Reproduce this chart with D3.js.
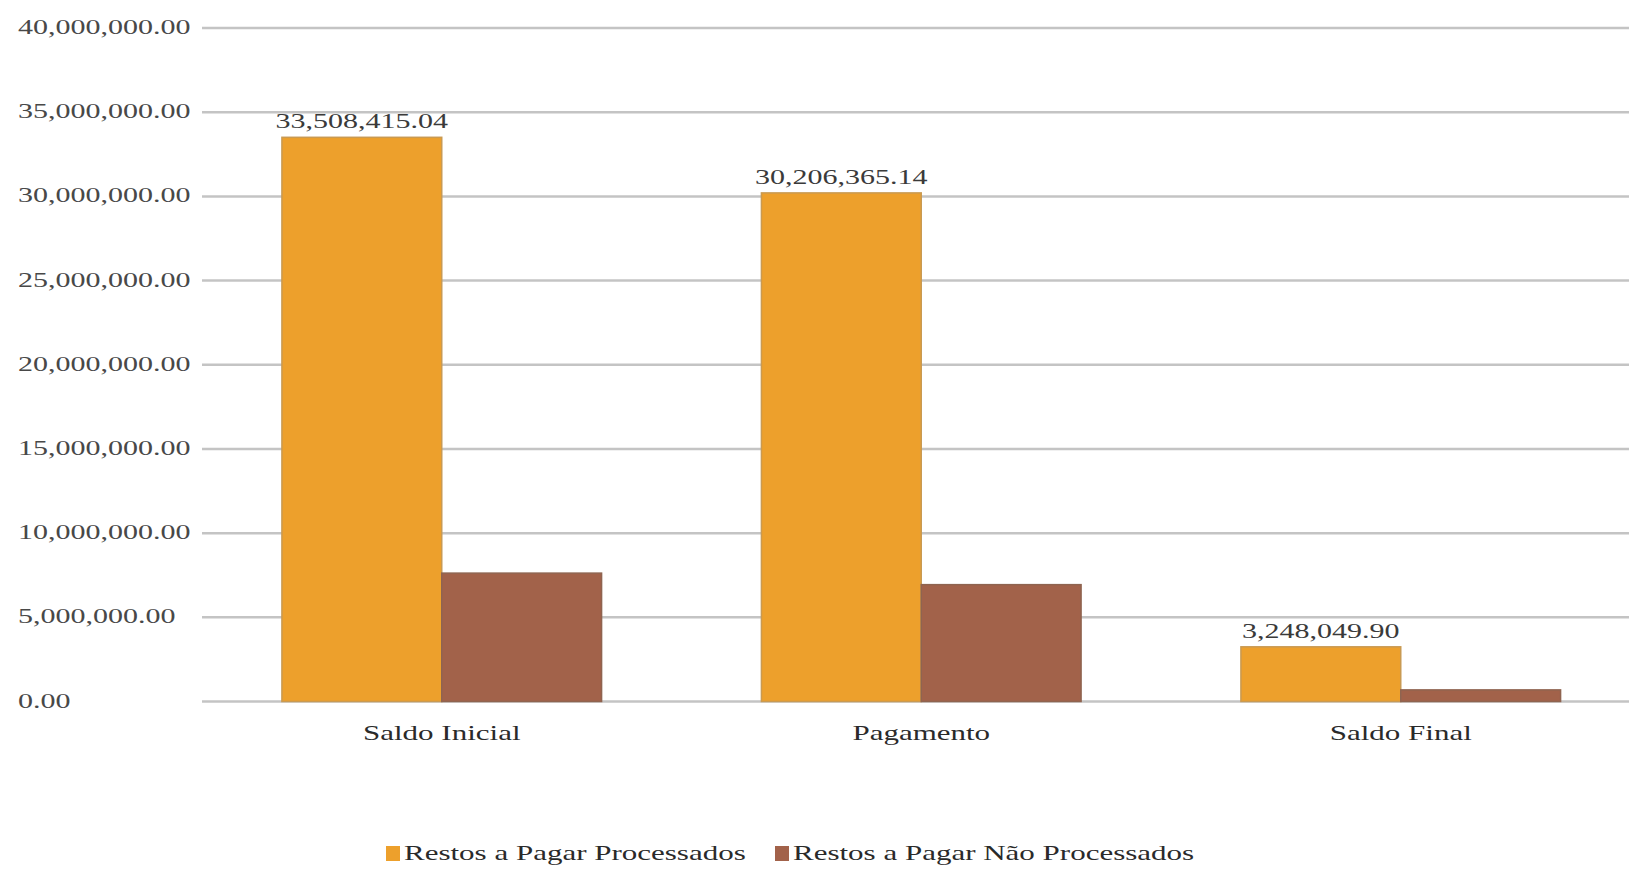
<!DOCTYPE html>
<html>
<head>
<meta charset="utf-8">
<script src="https://cdn.jsdelivr.net/npm/d3@7"></script>
<style>
  body { margin: 0; background: #fff; }
  text { font-family: "Liberation Serif", serif; fill: #333; }
</style>
</head>
<body>
<div id="chart"></div>
<script>
const categories = ["Saldo Inicial", "Pagamento", "Saldo Final"];
const seriesNames = ["Restos a Pagar Processados", "Restos a Pagar Não Processados"];
const processados = [33508415.04, 30206365.14, 3248049.90];
const naoProcessados = [7625000, 6940000, 690000];
const yTicks = [0, 5000000, 10000000, 15000000, 20000000, 25000000, 30000000, 35000000, 40000000];

const colors = ["#eda02c", "#a2624a"];
const strokes = ["#c99a52", "#8f6450"];
const numStretch = 1.5;   // the source font is wide, so stretch the serif
const textStretch = 1.55;

const width = 1629, height = 872;
const margin = {top: 28, left: 202};

const svg = d3.select("#chart").append("svg")
    .attr("width", width)
    .attr("height", height);

const y = d3.scaleLinear()
    .domain([0, 40000000])
    .range([701.5, margin.top]);

const x0 = d3.scaleBand()
    .domain(categories)
    .range([margin.left, margin.left + 3 * 479.5])
    .padding(0);

const x1 = d3.scaleBand()
    .domain(seriesNames)
    .range([0, x0.bandwidth()])
    .paddingInner(0)
    .paddingOuter(0.5);

const fmt = d3.format(",.2f");

// gridlines
svg.append("g").selectAll("line")
    .data(yTicks)
    .join("line")
    .attr("x1", margin.left)
    .attr("x2", width + 20)
    .attr("y1", d => y(d))
    .attr("y2", d => y(d))
    .attr("stroke", "#c4c4c4")
    .attr("stroke-width", 2.5);

// y tick labels (left aligned)
svg.append("g").selectAll("text")
    .data(yTicks)
    .join("text")
    .attr("transform", d => `translate(18,${y(d) + 6}) scale(${numStretch},1)`)
    .style("font-size", "20px")
    .style("fill", "#484848")
    .text(d => fmt(d));

const rows = categories.map((c, i) => ({
    category: c,
    values: [processados[i], naoProcessados[i]]
}));

const groups = svg.append("g").selectAll("g")
    .data(rows)
    .join("g")
    .attr("transform", d => `translate(${x0(d.category)},0)`);

groups.selectAll("rect")
    .data(d => d.values.map((v, j) => ({name: seriesNames[j], value: v, j: j})))
    .join("rect")
    .attr("x", d => x1(d.name))
    .attr("y", d => y(d.value))
    .attr("width", x1.bandwidth())
    .attr("height", d => y(0) - y(d.value))
    .attr("fill", d => colors[d.j])
    .attr("stroke", d => strokes[d.j])
    .attr("stroke-width", 1.5);

// data labels on processados bars
groups.append("text")
    .attr("text-anchor", "middle")
    .attr("transform", d => `translate(${x1(seriesNames[0]) + x1.bandwidth() / 2},${y(d.values[0]) - 9}) scale(${numStretch},1)`)
    .style("font-size", "20px")
    .style("fill", "#3a3a3a")
    .text(d => fmt(d.values[0]));

// category labels
svg.append("g").selectAll("text")
    .data(categories)
    .join("text")
    .attr("text-anchor", "middle")
    .attr("transform", d => `translate(${x0(d) + x0.bandwidth() / 2},${y(0) + 38}) scale(${textStretch},1)`)
    .style("font-size", "20px")
    .style("fill", "#2a2a2a")
    .text(d => d);

// legend
const legendItems = [
    {name: seriesNames[0], x: 386, color: colors[0]},
    {name: seriesNames[1], x: 775, color: colors[1]}
];
const legend = svg.append("g").selectAll("g")
    .data(legendItems)
    .join("g")
    .attr("transform", d => `translate(${d.x},846)`);
legend.append("rect")
    .attr("width", 14)
    .attr("height", 15)
    .attr("fill", d => d.color);
legend.append("text")
    .attr("transform", `translate(18,14) scale(${textStretch},1)`)
    .style("font-size", "20px")
    .style("fill", "#2a2a2a")
    .text(d => d.name);
</script>
</body>
</html>
